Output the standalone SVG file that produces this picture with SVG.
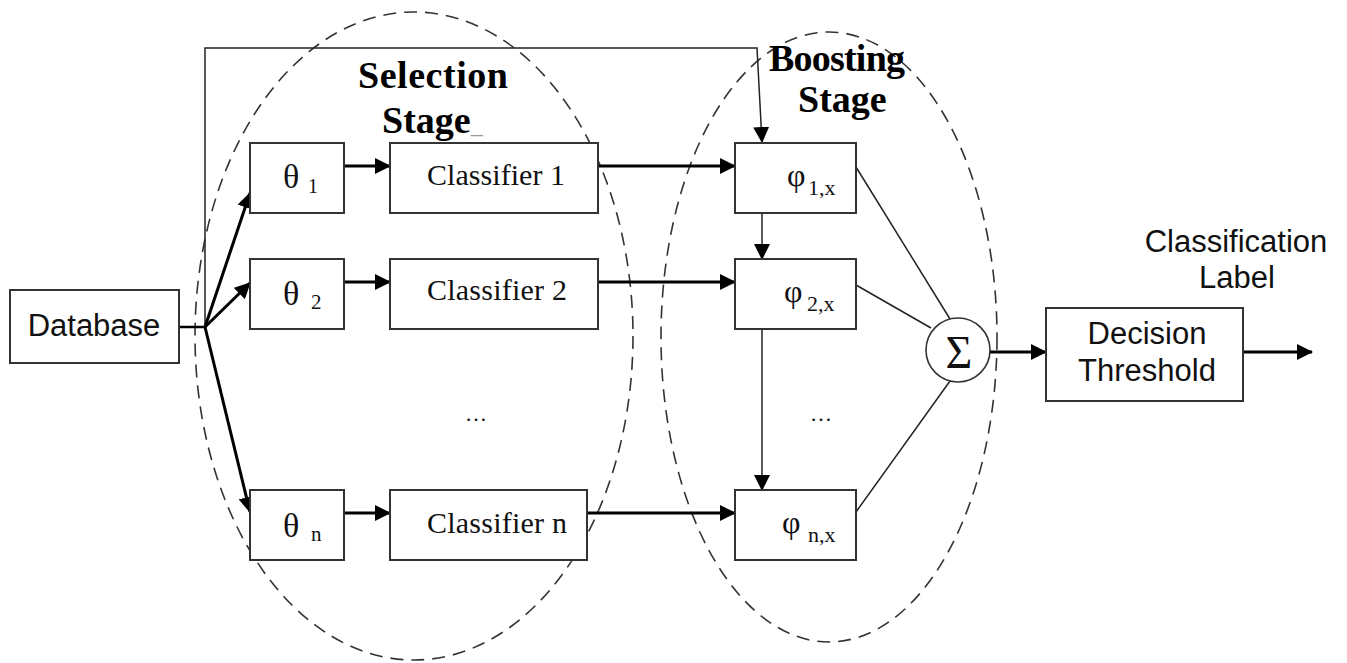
<svg xmlns="http://www.w3.org/2000/svg" width="1347" height="663" viewBox="0 0 1347 663">
<defs>
<style>
.box{fill:#fff;stroke:#333;stroke-width:2}
.sans{font-family:"Liberation Sans",Arial,sans-serif;font-size:31px;fill:#111}
.serif{font-family:"Liberation Serif","Times New Roman",serif;fill:#111}
.title{font-family:"Liberation Serif","Times New Roman",serif;font-weight:bold;font-size:38px;fill:#000}
.dash{fill:none;stroke:#333;stroke-width:1.6;stroke-dasharray:13 8}
.thick{fill:none;stroke:#000;stroke-width:3}
.thin{fill:none;stroke:#222;stroke-width:1.5}
</style>
<marker id="ah" markerUnits="userSpaceOnUse" markerWidth="16" markerHeight="16" viewBox="0 0 16 16" refX="15" refY="8" orient="auto">
<path d="M0,0 L16,8 L0,16 Z" fill="#000"/>
</marker>
</defs>
<rect width="1347" height="663" fill="#fff"/>

<g id="stages">
<ellipse class="dash" cx="414" cy="336" rx="219" ry="324"/>
<ellipse class="dash" cx="829" cy="337" rx="168" ry="305"/>
<text class="title" x="358" y="88" textLength="150">Selection</text>
<text class="title" x="382" y="133">Stage<tspan fill="#999" font-weight="normal" font-size="24px">_</tspan></text>
<text class="title" x="769" y="71" textLength="136">Boosting</text>
<text class="title" x="798" y="112">Stage</text>
</g>

<g id="connectors">
<polyline class="thin" points="205,326 205,48 757,48 762,142" marker-end="url(#ah)"/>
<line x1="179" y1="327" x2="206" y2="327" stroke="#000" stroke-width="2.5"/>
<line class="thick" x1="205" y1="327" x2="250" y2="193" marker-end="url(#ah)"/>
<line class="thick" x1="205" y1="327" x2="250" y2="283" marker-end="url(#ah)"/>
<line class="thick" x1="205" y1="327" x2="250" y2="512" marker-end="url(#ah)"/>
<line class="thick" x1="344" y1="166" x2="390" y2="166" marker-end="url(#ah)"/>
<line class="thick" x1="344" y1="282" x2="390" y2="282" marker-end="url(#ah)"/>
<line class="thick" x1="344" y1="513" x2="390" y2="513" marker-end="url(#ah)"/>
<line class="thick" x1="598" y1="166" x2="735" y2="166" stroke-width="2.5" marker-end="url(#ah)"/>
<line class="thick" x1="598" y1="282" x2="735" y2="282" stroke-width="3.5" marker-end="url(#ah)"/>
<line class="thick" x1="587" y1="513" x2="735" y2="513" marker-end="url(#ah)"/>
<line class="thin" x1="762" y1="213" x2="762" y2="259" marker-end="url(#ah)"/>
<line class="thin" x1="762" y1="329" x2="762" y2="490" marker-end="url(#ah)"/>
<line class="thin" x1="856" y1="167" x2="950" y2="319"/>
<line class="thin" x1="856" y1="285" x2="931" y2="328"/>
<line class="thin" x1="856" y1="512" x2="950" y2="381"/>
<line class="thick" x1="990" y1="352" x2="1046" y2="352" marker-end="url(#ah)"/>
<line class="thick" x1="1243" y1="352" x2="1312" y2="352" marker-end="url(#ah)"/>
</g>

<g id="database">
<rect class="box" x="10" y="290" width="169" height="73"/>
<text class="sans" x="94" y="336" text-anchor="middle">Database</text>
</g>

<g id="theta1">
<rect class="box" x="250" y="143" width="94" height="70"/>
<text class="serif" x="283" y="188" font-size="34px">θ<tspan x="308" y="193" font-size="20px">1</tspan></text>
</g>
<g id="theta2">
<rect class="box" x="250" y="259" width="94" height="70"/>
<text class="serif" x="283" y="305" font-size="34px">θ<tspan x="311" y="309" font-size="21px">2</tspan></text>
</g>
<g id="thetan">
<rect class="box" x="250" y="490" width="94" height="70"/>
<text class="serif" x="283" y="537" font-size="34px">θ<tspan x="311" y="541" font-size="21px">n</tspan></text>
</g>

<g id="classifier1">
<rect class="box" x="390" y="143" width="208" height="70"/>
<text class="serif" x="427" y="185" font-size="30px" textLength="138">Classifier 1</text>
</g>
<g id="classifier2">
<rect class="box" x="390" y="259" width="208" height="70"/>
<text class="serif" x="427" y="300" font-size="30px" textLength="140">Classifier 2</text>
</g>
<g id="classifiern">
<rect class="box" x="390" y="490" width="197" height="70"/>
<text class="serif" x="427" y="533" font-size="30px" textLength="140">Classifier n</text>
</g>

<text class="serif" x="476" y="421" font-size="22px" text-anchor="middle" fill="#555">…</text>
<text class="serif" x="821" y="421" font-size="22px" text-anchor="middle" fill="#555">…</text>

<g id="phi1">
<rect class="box" x="735" y="143" width="121" height="70"/>
<text class="serif" x="787" y="186" font-size="32px">φ<tspan x="808" y="195" font-size="22px">1,x</tspan></text>
</g>
<g id="phi2">
<rect class="box" x="735" y="259" width="121" height="70"/>
<text class="serif" x="784" y="302" font-size="32px">φ<tspan x="807" y="311" font-size="22px">2,x</tspan></text>
</g>
<g id="phin">
<rect class="box" x="735" y="490" width="121" height="70"/>
<text class="serif" x="782" y="533" font-size="32px">φ<tspan x="808" y="542" font-size="22px">n,x</tspan></text>
</g>

<g id="sum">
<circle cx="958" cy="350" r="32" fill="#fff" stroke="#333" stroke-width="1.6"/>
<text class="serif" x="959" y="368" font-size="46px" text-anchor="middle">Σ</text>
</g>

<g id="decision">
<rect class="box" x="1046" y="308" width="197" height="93"/>
<text class="sans" x="1147" y="344" text-anchor="middle">Decision</text>
<text class="sans" x="1147" y="381" text-anchor="middle">Threshold</text>
</g>

<g id="label">
<text class="sans" x="1236" y="252" text-anchor="middle">Classification</text>
<text class="sans" x="1237" y="288" text-anchor="middle">Label</text>
</g>
</svg>
